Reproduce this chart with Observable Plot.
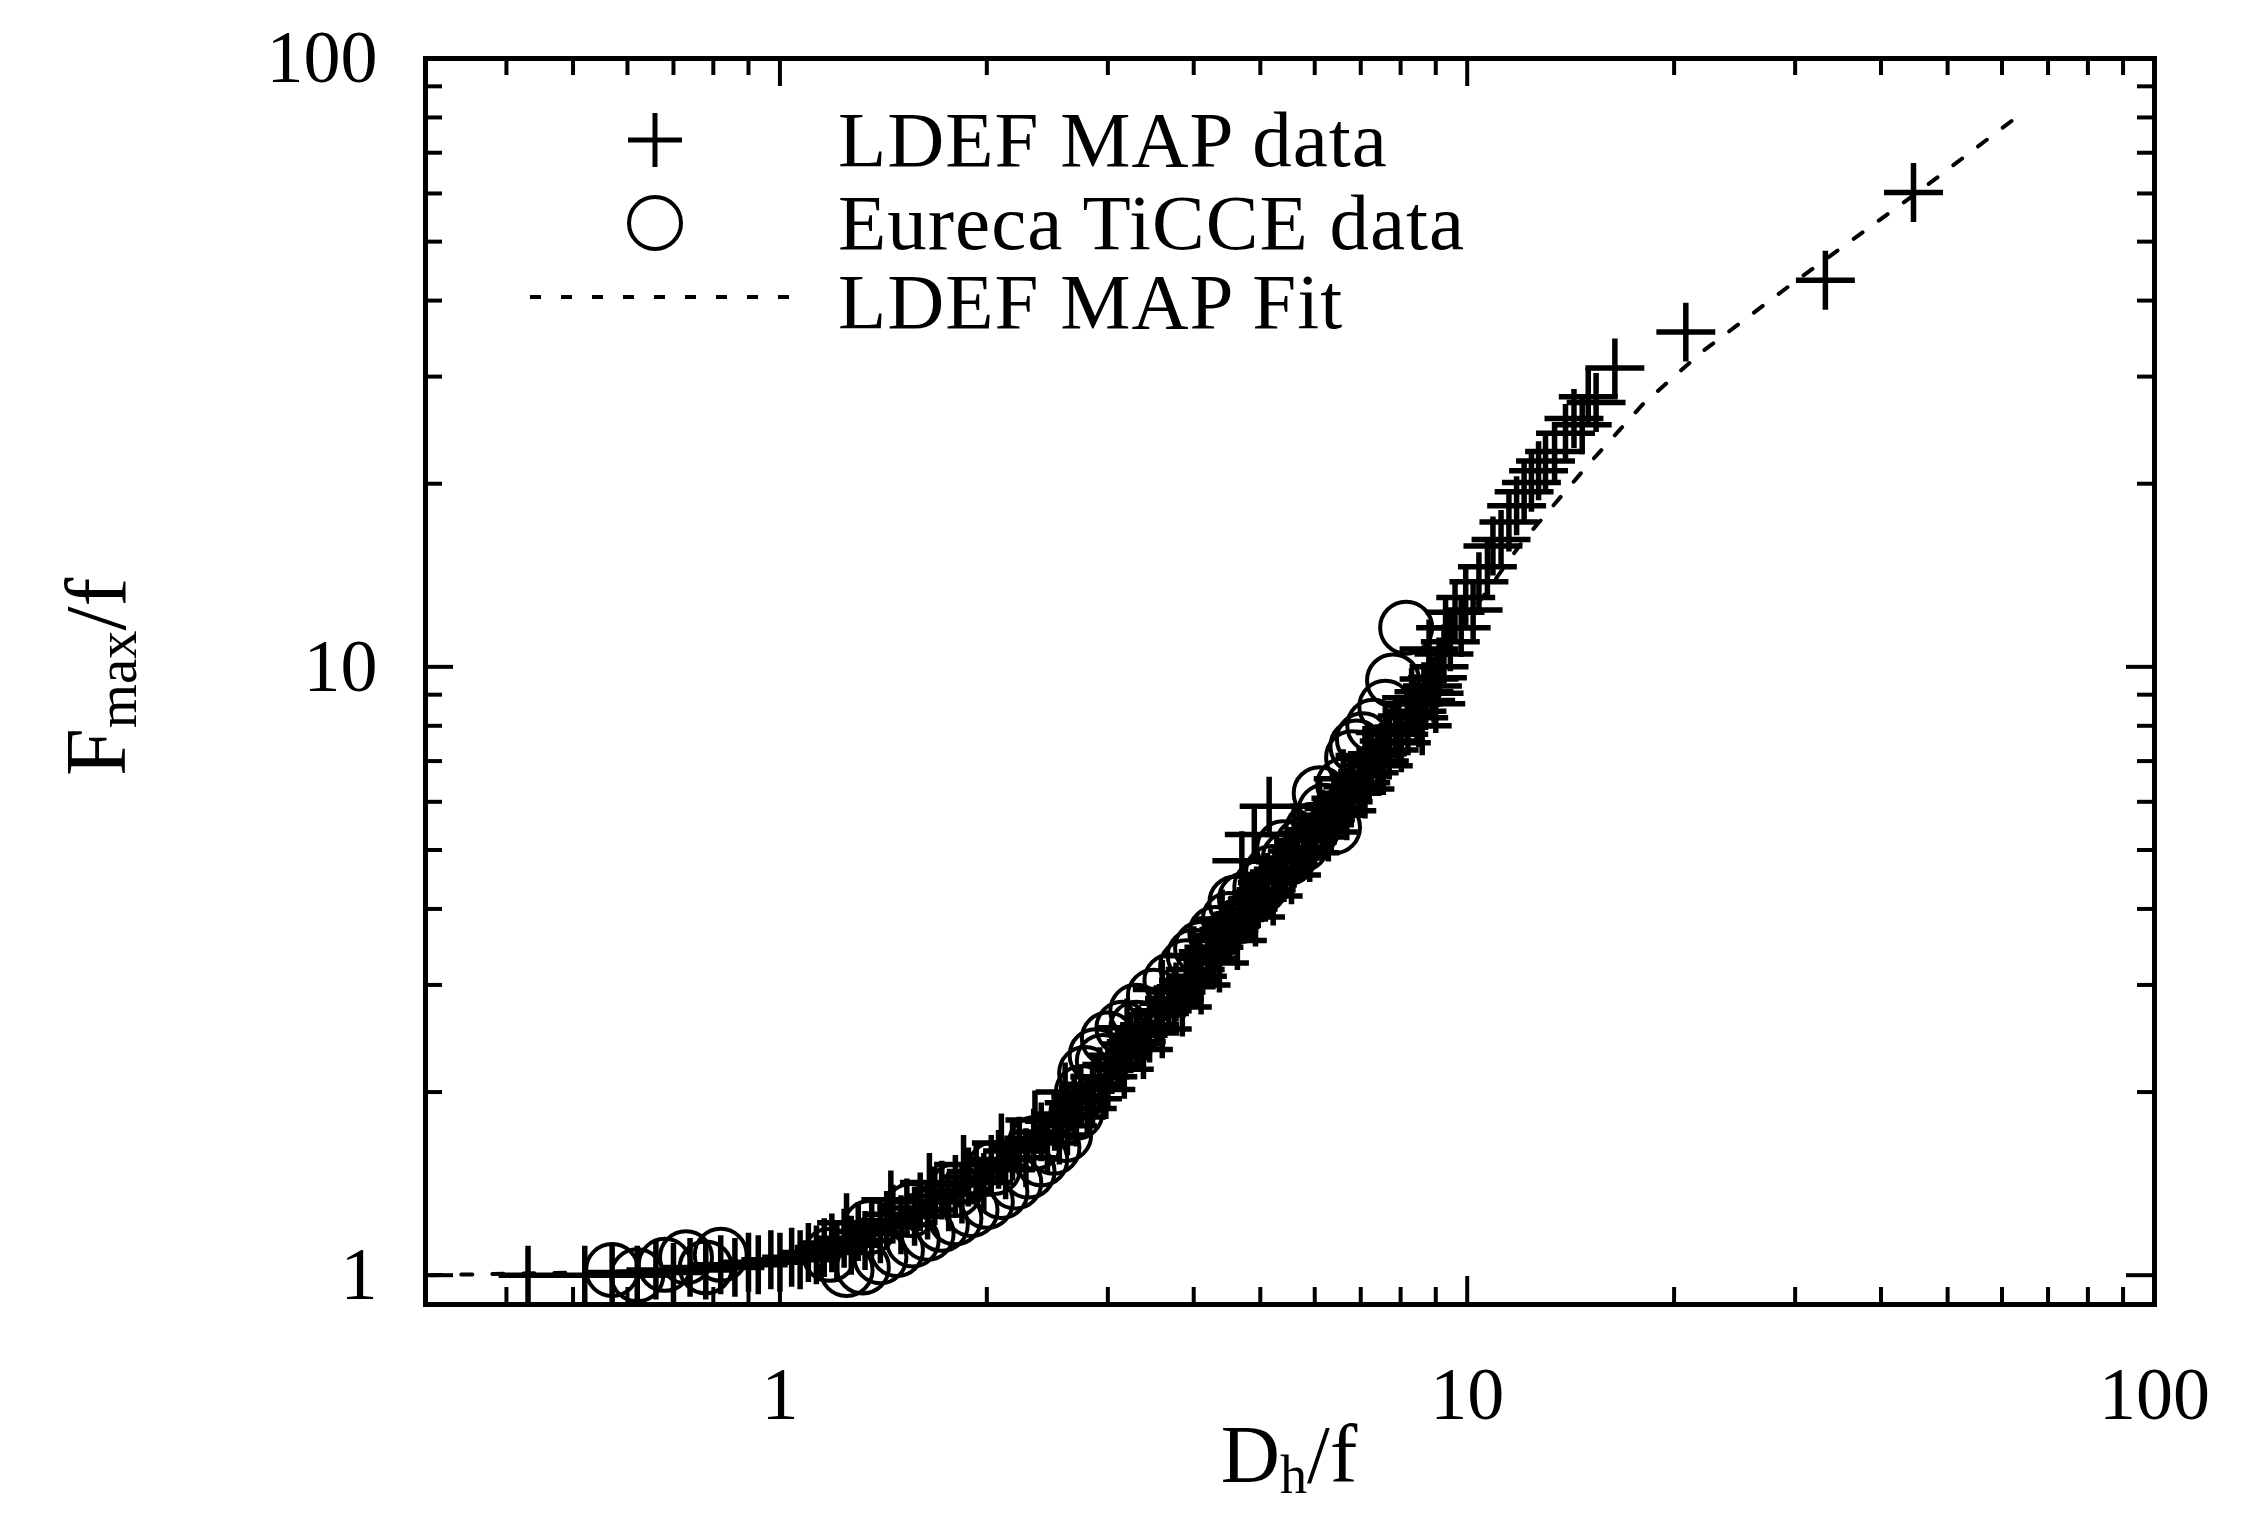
<!DOCTYPE html>
<html>
<head>
<meta charset="utf-8">
<script src="https://cdn.jsdelivr.net/npm/d3@7"></script>
<script src="https://cdn.jsdelivr.net/npm/@observablehq/plot@0.6"></script>
<style>
  html, body { margin: 0; padding: 0; background: #fff; }
  #wrap { position: relative; width: 2259px; height: 1515px; overflow: hidden;
          font-family: "Liberation Serif", "Times New Roman", serif; color: #000; }
  #wrap svg { display: block; }
  .abs { position: absolute; white-space: nowrap; line-height: 1; }
  .lg { font-size: 79px; letter-spacing: 1px; }
  .ttl { font-size: 82px; }
  .sub { font-size: 0.66em; position: relative; top: 0.2em; }
</style>
</head>
<body>
<div id="wrap"></div>
<script>
// ---------------- data ----------------
const ldefDh = [
  0.43,0.52,0.57,0.62,0.66,0.70,0.74,0.78,0.82,0.86,0.90,0.93,0.97,1.00,1.04,1.07,1.10,1.13,1.16,1.19,
  1.21,1.24,1.27,1.30,1.33,1.36,1.40,1.43,1.46,1.50,1.53,1.57,1.60,1.64,1.68,1.72,1.76,1.80,1.84,1.88,
  1.93,1.98,2.03,2.08,2.13,2.18,2.23,2.28,2.34,2.40,2.45,2.51,2.57,2.62,2.68,2.74,2.80,2.86,2.92,2.98,
  3.04,3.10,3.17,3.24,3.32,3.38,3.45,3.53,3.60,3.68,3.77,3.85,3.93,4.02,4.10,4.19,4.28,4.36,4.45,4.54,
  4.63,4.72,4.82,4.92,5.02,5.12,5.22,5.33,5.44,5.55,5.66,5.78,5.90,6.02,6.15,6.28,6.40,6.55,6.68,6.82,
  6.96,7.10,7.25,7.40,7.55,7.70,7.86,8.02,8.18,8.35,8.50,8.65,8.80,8.95,9.10,9.25,
  4.70,4.90,5.15,8.60,9.00,8.80,9.30,
  1.25,1.45,1.65,1.85,2.10,2.35,2.60,
  2.55,2.70,2.85,3.00,3.15,3.30,3.45,3.60,3.75,3.90,4.05,4.20,4.35,4.50,4.65,4.80,4.95,5.10,5.25,5.40,
  5.60,5.80,6.00,6.20,6.40,6.60,6.80,7.00,7.20,7.45,7.70,7.95,8.20,8.45,8.70,8.90,9.05,
  3.20,3.60,4.00,4.40,5.60,6.10,6.60,7.10,7.60,8.30,
  9.45,9.60,9.80,9.95,10.2,10.4,10.7,10.9,11.2,11.5,11.8,12.1,12.4,12.7,13.0,13.4,13.9,14.3,14.7,15.0,
  15.4,16.4,20.8,33.2,44.6
];
const ldefFmax = [
  1.00,1.00,1.01,1.00,1.02,1.01,1.03,1.02,1.04,1.03,1.05,1.04,1.06,1.05,1.07,1.06,1.09,1.08,1.11,1.13,
  1.09,1.15,1.12,1.18,1.14,1.20,1.17,1.23,1.26,1.21,1.29,1.25,1.32,1.28,1.35,1.38,1.32,1.41,1.36,1.45,
  1.48,1.42,1.52,1.55,1.49,1.60,1.63,1.56,1.68,1.72,1.65,1.79,1.84,1.76,1.92,1.97,1.88,2.06,2.12,2.02,
  2.22,2.30,2.18,2.40,2.48,2.35,2.58,2.68,2.54,2.80,2.92,2.76,3.05,3.18,3.00,3.32,3.46,3.26,3.62,3.76,
  3.55,3.92,4.08,3.88,4.25,4.42,4.20,4.60,4.78,4.55,4.98,5.18,4.95,5.40,5.62,5.35,5.85,6.08,5.80,6.35,
  6.62,6.30,6.90,7.20,6.88,7.55,7.90,7.50,8.30,8.70,8.25,9.10,9.55,9.05,10.0,10.5,
  4.80,5.30,5.90,8.00,8.70,10.7,11.6,
  1.22,1.33,1.42,1.52,1.65,1.80,2.00,
  1.70,1.82,1.95,2.12,2.28,2.42,2.50,2.72,2.85,2.98,3.10,3.40,3.55,3.70,3.85,4.00,4.15,4.30,4.50,4.65,
  4.85,5.05,5.25,5.50,5.70,6.00,6.20,6.45,6.70,7.00,7.30,7.75,8.00,8.45,8.80,9.30,9.60,
  2.55,2.95,3.35,3.85,5.30,5.90,6.55,7.15,7.80,8.90,
  11.0,12.3,11.6,13.0,12.4,13.8,14.6,15.8,16.2,17.3,18.4,19.4,20.1,21.0,21.8,22.6,24.2,25.6,25.0,27.8,
  27.2,31.0,35.5,43.2,60.2
];
const eurecaDh = [
  0.57,0.62,0.68,0.73,0.78,0.82,1.18,1.25,1.32,1.40,1.48,1.56,1.64,1.72,1.80,1.90,2.00,2.10,2.20,2.30,
  2.40,2.50,2.60,2.70,2.75,2.78,2.88,3.00,3.15,3.30,3.50,3.70,3.90,4.10,4.30,4.50,4.75,5.00,5.20,5.50,
  5.75,5.95,6.20,6.40,6.60,6.80,7.05,7.30,7.60,7.80,8.15,
  1.35,1.55,1.80,2.05,2.35,2.95,3.30,4.00,4.60,5.40,6.10,6.90
];
const eurecaFmax = [
  1.02,1.00,1.04,1.07,1.03,1.08,1.08,1.02,1.03,1.07,1.10,1.14,1.17,1.21,1.24,1.28,1.32,1.37,1.42,1.48,
  1.55,1.62,1.70,1.85,2.00,2.15,2.30,2.45,2.55,2.72,2.88,3.05,3.22,3.45,3.65,3.85,4.15,4.35,4.60,4.85,
  5.10,5.40,5.80,5.45,6.40,7.10,7.60,8.00,8.60,9.50,11.6,
  1.20,1.28,1.38,1.50,1.65,2.25,2.55,3.35,4.10,5.05,6.20,7.40
];
const fitDh   = [0.31, 0.5, 0.7, 1.0, 1.3, 1.6, 2.0, 2.5, 3.0, 4.0, 5.0, 6.0, 7.0, 8.0, 9.0, 10, 12, 15, 18, 22, 30, 45, 62];
const fitFmax = [1.00, 1.01, 1.02, 1.05, 1.12, 1.25, 1.45, 1.78, 2.2, 3.2, 4.5, 5.8, 7.2, 8.7, 10.3, 12, 16, 21.5, 27, 33, 43, 60, 79];

const xMajor = [1, 10, 100];
const xMinor = [0.4,0.5,0.6,0.7,0.8,0.9, 2,3,4,5,6,7,8,9, 20,30,40,50,60,70,80,90];
const yMajor = [1, 10, 100];
const yMinor = [2,3,4,5,6,7,8,9, 20,30,40,50,60,70,80,90];

const legendLabels = ["LDEF MAP data", "Eureca TiCCE data", "LDEF MAP Fit"];
const xTitle = ["D", "h", "/f"];
const yTitle = ["F", "max", "/f"];

// ---------------- build ----------------
const ldef = ldefDh.map((d, i) => ({Dh: d, F: ldefFmax[i]}));
const eureca = eurecaDh.map((d, i) => ({Dh: d, F: eurecaFmax[i]}));
const fit = fitDh.map((d, i) => ({Dh: d, F: fitFmax[i]}));

const W = 2259, H = 1515, mL = 425, mR = 105, mT = 58, mB = 211;
const fw = W - mL - mR, fh = H - mT - mB;
const majorLen = 28, minorLen = 17;

const chart = Plot.plot({
  width: W, height: H,
  marginLeft: mL, marginRight: mR, marginTop: mT, marginBottom: mB,
  style: {fontFamily: "'Liberation Serif', 'Times New Roman', serif", fontSize: "74px", background: "white", color: "black"},
  x: {type: "log", domain: [0.305, 100]},
  y: {type: "log", domain: [0.895, 100]},
  marks: [
    Plot.line(fit, {x: "Dh", y: "F", stroke: "black", strokeWidth: 4, strokeDasharray: "11,20", clip: true}),
    Plot.dot(eureca, {x: "Dh", y: "F", symbol: "circle", r: 26, stroke: "black", strokeWidth: 4, fill: "none"}),
    Plot.dot(ldef, {x: "Dh", y: "F", symbol: "plus", r: 19, stroke: "black", strokeWidth: 5.5, fill: "none"}),
    // inward ticks, bottom / top
    Plot.ruleX(xMajor, {x: d => d, insetTop: fh - majorLen, stroke: "black", strokeWidth: 4}),
    Plot.ruleX(xMinor, {x: d => d, insetTop: fh - minorLen, stroke: "black", strokeWidth: 4}),
    Plot.ruleX(xMajor, {x: d => d, insetBottom: fh - majorLen, stroke: "black", strokeWidth: 4}),
    Plot.ruleX(xMinor, {x: d => d, insetBottom: fh - minorLen, stroke: "black", strokeWidth: 4}),
    // inward ticks, left / right
    Plot.ruleY(yMajor, {y: d => d, insetRight: fw - majorLen, stroke: "black", strokeWidth: 4}),
    Plot.ruleY(yMinor, {y: d => d, insetRight: fw - minorLen, stroke: "black", strokeWidth: 4}),
    Plot.ruleY(yMajor, {y: d => d, insetLeft: fw - majorLen, stroke: "black", strokeWidth: 4}),
    Plot.ruleY(yMinor, {y: d => d, insetLeft: fw - minorLen, stroke: "black", strokeWidth: 4}),
    Plot.frame({stroke: "black", strokeWidth: 5}),
    Plot.axisX({ticks: xMajor, tickSize: 0, tickPadding: 62, tickFormat: d => String(d), label: null, fontSize: 74}),
    Plot.axisY({ticks: yMajor, tickSize: 0, tickPadding: 48, tickFormat: d => String(d), label: null, fontSize: 74})
  ]
});

const wrap = document.getElementById("wrap");
wrap.appendChild(chart);

// ---------------- titles (HTML, for subscripts) ----------------
const xt = document.createElement("div");
xt.className = "abs ttl";
xt.innerHTML = `${xTitle[0]}<span class="sub">${xTitle[1]}</span>${xTitle[2]}`;
xt.style.left = "1289px";
xt.style.top = "1414px";
xt.style.transform = "translateX(-50%)";
wrap.appendChild(xt);

const yt = document.createElement("div");
yt.className = "abs ttl";
yt.style.fontSize = "86px";
yt.innerHTML = `${yTitle[0]}<span class="sub">${yTitle[1]}</span>${yTitle[2]}`;
wrap.appendChild(yt);
{
  const w = yt.offsetWidth, h = yt.offsetHeight;
  const cx = 96, cy = 677;
  yt.style.left = (cx - w / 2) + "px";
  yt.style.top = (cy - h / 2) + "px";
  yt.style.transform = "rotate(-90deg)";
}

// ---------------- legend (inside the frame) ----------------
const ns = "http://www.w3.org/2000/svg";
const lg = document.createElementNS(ns, "svg");
lg.setAttribute("width", "300");
lg.setAttribute("height", "260");
lg.style.position = "absolute";
lg.style.left = "510px";
lg.style.top = "90px";
lg.innerHTML = `
  <path d="M118,50 H172 M145,23 V77" stroke="black" stroke-width="5" fill="none"/>
  <circle cx="145" cy="133" r="26" stroke="black" stroke-width="4" fill="none"/>
  <line x1="20" y1="207" x2="280" y2="207" stroke="black" stroke-width="4" stroke-dasharray="11,20"/>
`;
wrap.appendChild(lg);

const rowsY = [140, 223, 302];
legendLabels.forEach((t, i) => {
  const d = document.createElement("div");
  d.className = "abs lg";
  d.textContent = t;
  d.style.left = "838px";
  d.style.top = (rowsY[i] - 40) + "px";
  wrap.appendChild(d);
});
</script>
</body>
</html>
